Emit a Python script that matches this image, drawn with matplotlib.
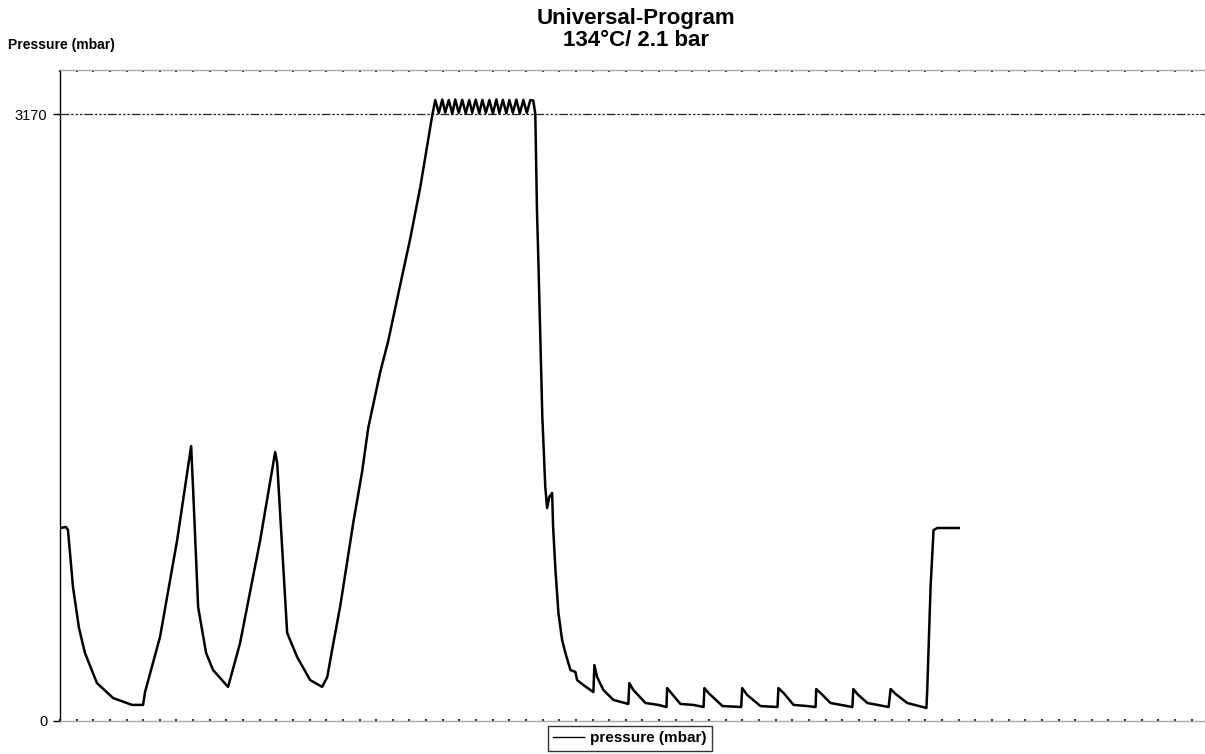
import matplotlib
matplotlib.use("Agg")
import matplotlib.pyplot as plt
import numpy as np

plt.rcParams['font.family'] = ['Liberation Sans', 'DejaVu Sans']

# time (arbitrary units) and pressure (mbar)
time = [
    0.00, 0.36, 0.48, 0.78, 1.14, 1.50, 2.22, 3.19, 4.33, 4.99,
    5.11, 6.01, 7.04, 7.88, 8.00, 8.30, 8.78, 9.20, 10.10,
    10.82, 12.03, 12.93, 13.05, 13.65, 14.25, 15.03, 15.75,
    16.06, 16.36, 16.84, 17.62, 18.16, 18.52, 19.24, 19.72, 20.44,
    21.05, 21.65, 22.13, 22.37,
    22.55, 22.76, 22.97, 23.15, 23.36, 23.57, 23.75, 23.96, 24.17, 24.38,
    24.59, 24.77, 24.98, 25.19, 25.38, 25.59, 25.80, 26.01, 26.22, 26.40,
    26.61, 26.82, 27.00, 27.21, 27.42, 27.63, 27.84, 28.05, 28.26, 28.44,
    28.56, 28.66, 28.74, 28.86, 28.98, 29.16, 29.27, 29.40, 29.57, 29.63,
    29.77, 29.95, 30.17, 30.37, 30.67, 30.97, 31.07, 31.45, 32.05,
    32.11, 32.27, 32.65, 33.25, 34.15,
    34.21, 34.45, 35.18, 35.96, 36.44,
    36.48, 36.68, 37.28, 38.06, 38.67,
    38.72, 38.97, 39.81, 40.93,
    40.99, 41.29, 42.09, 43.11,
    43.17, 43.48, 44.08, 44.90, 45.40,
    45.44, 45.70, 46.30, 47.61,
    47.67, 47.91, 48.51, 49.79,
    49.91, 50.21, 50.91, 52.06,
    52.11, 52.31, 52.49, 52.72, 54.00,
]
pressure = [
    1008, 1013, 997, 700, 486, 355, 198, 120, 84, 84,
    151, 439, 945, 1436, 1206, 595, 355, 266, 178,
    407, 945, 1405, 1347, 460, 334, 214, 178,
    230, 376, 601, 1034, 1306, 1530, 1822, 1984, 2277,
    2522, 2789, 3039, 3165,
    3243, 3175, 3245, 3178, 3243, 3172, 3246, 3176, 3244, 3174,
    3243, 3177, 3245, 3173, 3244, 3176, 3243, 3172, 3246, 3175,
    3244, 3174, 3243, 3177, 3245, 3173, 3244, 3176, 3243, 3240,
    3170, 2668, 2418, 2005, 1593, 1222, 1112, 1170, 1191, 1013,
    789, 564, 423, 355, 266, 256, 214, 188, 151,
    292, 230, 162, 110, 89,
    198, 162, 94, 84, 73,
    172, 151, 89, 84, 73,
    172, 146, 78, 73,
    172, 136, 78, 73,
    172, 146, 84, 78, 73,
    167, 146, 94, 73,
    167, 141, 94, 73,
    167, 141, 94, 68,
    162, 700, 997, 1008, 1008,
]

setpoint = 3170
y_ticks = [0, 3170]
y_ticklabels = ["0", "3170"]

fig = plt.figure(figsize=(12.05, 7.54), dpi=100)
ax = fig.add_axes([60/1205, 1 - 721/754, 1 - 60/1205, (721 - 70)/754])

ax.axhline(setpoint, color='#222222', lw=0.9, linestyle=(0, (7, 1.5, 2, 1.5, 2, 1.5, 2, 1.5)), zorder=1)
ax.plot(time, pressure, color='black', lw=1.8, label='pressure (mbar)', zorder=3)

ax.set_xlim(0, 68.8)
ax.set_ylim(0, 3400)

ax.set_yticks(y_ticks)
ax.set_yticklabels(y_ticklabels, fontsize=10.5)
ax.tick_params(axis='y', direction='out', length=5, width=1, color='black', pad=4)

ax.set_xticks(np.arange(0, 69, 1))
ax.xaxis.set_ticks_position('both')
ax.tick_params(axis='x', which='both', direction='in', length=1.2, width=1.6,
               color='#333333', labelbottom=False, labeltop=False)

ax.spines['left'].set_color('black')
ax.spines['left'].set_linewidth(1)
for s in ('top', 'bottom'):
    ax.spines[s].set_color('#a8a8a8')
    ax.spines[s].set_linewidth(1)
ax.spines['right'].set_visible(False)

fig.text(0.528, 1 - 8/754, "Universal-Program\n134°C/ 2.1 bar", ha='center', va='top',
         fontsize=16, fontweight='bold', linespacing=1.05)
fig.text(8/1205, 1 - 45/754, "Pressure (mbar)", ha='left', va='center',
         fontsize=10, fontweight='bold')

leg = fig.legend(loc='upper center', bbox_to_anchor=(630/1205, 1 - 726/754), frameon=True,
                 fancybox=False, edgecolor='black', prop={'size': 11, 'weight': 'bold'},
                 handlelength=2.0, handletextpad=0.4, borderpad=0.35, borderaxespad=0)
leg.get_frame().set_linewidth(1)
for line in leg.get_lines():
    line.set_linewidth(1)

fig.savefig("out.png", dpi=100)
